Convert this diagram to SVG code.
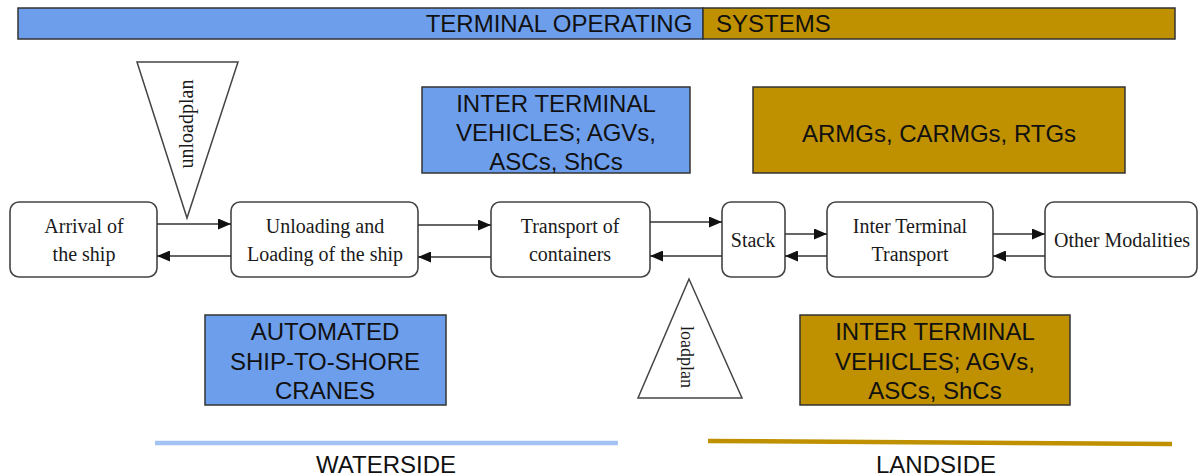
<svg xmlns="http://www.w3.org/2000/svg" width="1199" height="476" viewBox="0 0 1199 476">
<style>
.sans{font-family:"Liberation Sans",Arial,sans-serif;font-size:24px;fill:#111;text-anchor:middle}
.serif{font-family:"Liberation Serif","Times New Roman",serif;font-size:20px;fill:#1a1a1a;text-anchor:middle}
.blue{fill:#6d9eeb;stroke:#333;stroke-width:1.5}
.gold{fill:#bf9000;stroke:#333;stroke-width:1.5}
.node{fill:#fff;stroke:#444;stroke-width:1.6}
.tri{fill:#fff;stroke:#444;stroke-width:1.5}
.conn line{stroke:#333;stroke-width:1.6;marker-end:url(#ah)}
</style>
<defs>
<marker id="ah" viewBox="0 0 13 11" refX="13" refY="5.5" markerWidth="13" markerHeight="11" markerUnits="userSpaceOnUse" orient="auto">
<path d="M0,0 L13,5.5 L0,11 z" fill="#111"/>
</marker>
</defs>
<rect width="1199" height="476" fill="#fff"/>

<g id="tos-bar">
<rect class="blue" x="18" y="8" width="685" height="31"/>
<rect class="gold" x="703" y="8" width="472" height="31"/>
<text class="sans" x="559" y="32">TERMINAL OPERATING</text>
<text class="sans" x="716" y="32" style="text-anchor:start">SYSTEMS</text>
</g>

<g id="unloadplan">
<polygon class="tri" points="137,62 238,62 187,218"/>
<text class="serif" transform="translate(193,124) rotate(-90)" x="0" y="0">unloadplan</text>
</g>

<g id="loadplan">
<polygon class="tri" points="689,279 638,398 742,398"/>
<text class="serif" style="font-size:18px" transform="translate(681,357) rotate(90)" x="0" y="0">loadplan</text>
</g>

<g id="box-itv-water">
<rect class="blue" x="422" y="87" width="268" height="86"/>
<text class="sans" x="556" y="112">INTER TERMINAL</text>
<text class="sans" x="556" y="141">VEHICLES; AGVs,</text>
<text class="sans" x="556" y="170">ASCs, ShCs</text>
</g>

<g id="box-armg">
<rect class="gold" x="753" y="87" width="372" height="86"/>
<text class="sans" x="939" y="142">ARMGs, CARMGs, RTGs</text>
</g>

<g id="box-sts">
<rect class="blue" x="205" y="315" width="241" height="90"/>
<text class="sans" x="325" y="340">AUTOMATED</text>
<text class="sans" x="325" y="370">SHIP-TO-SHORE</text>
<text class="sans" x="325" y="399">CRANES</text>
</g>

<g id="box-itv-land">
<rect class="gold" x="800" y="315" width="270" height="90"/>
<text class="sans" x="935" y="340">INTER TERMINAL</text>
<text class="sans" x="935" y="370">VEHICLES; AGVs,</text>
<text class="sans" x="935" y="399">ASCs, ShCs</text>
</g>

<g id="arrival">
<rect class="node" x="10" y="202" width="147" height="75" rx="9"/>
<text class="serif" x="84" y="233">Arrival of</text>
<text class="serif" x="84" y="261">the ship</text>
</g>
<g id="unloading">
<rect class="node" x="231" y="202" width="187" height="75" rx="9"/>
<text class="serif" x="325" y="233">Unloading and</text>
<text class="serif" x="325" y="261">Loading of the ship</text>
</g>
<g id="transport">
<rect class="node" x="491" y="202" width="159" height="75" rx="9"/>
<text class="serif" x="570" y="233">Transport of</text>
<text class="serif" x="570" y="261">containers</text>
</g>
<g id="stack">
<rect class="node" x="722" y="202" width="63" height="75" rx="9"/>
<text class="serif" x="753" y="247">Stack</text>
</g>
<g id="inter-terminal">
<rect class="node" x="827" y="202" width="166" height="75" rx="9"/>
<text class="serif" x="910" y="233">Inter Terminal</text>
<text class="serif" x="910" y="261">Transport</text>
</g>
<g id="other">
<rect class="node" x="1045" y="202" width="152" height="75" rx="9"/>
<text class="serif" x="1122" y="247">Other Modalities</text>
</g>

<g id="connectors" class="conn">
<line x1="157" y1="224" x2="231" y2="224"/>
<line x1="231" y1="256" x2="157" y2="256"/>
<line x1="418" y1="225" x2="491" y2="225"/>
<line x1="491" y1="257" x2="418" y2="257"/>
<line x1="650" y1="222" x2="722" y2="222"/>
<line x1="722" y1="256" x2="650" y2="256"/>
<line x1="785" y1="234" x2="827" y2="234"/>
<line x1="827" y1="256" x2="785" y2="256"/>
<line x1="993" y1="234" x2="1045" y2="234"/>
<line x1="1045" y1="256" x2="993" y2="256"/>
</g>

<g id="waterside">
<line x1="155" y1="443" x2="618" y2="443" stroke="#a4c2f4" stroke-width="4.5"/>
<text class="sans" x="386" y="473">WATERSIDE</text>
</g>
<g id="landside">
<line x1="708" y1="441" x2="1172" y2="444" stroke="#bf9000" stroke-width="4.5"/>
<text class="sans" x="936" y="473">LANDSIDE</text>
</g>
</svg>
